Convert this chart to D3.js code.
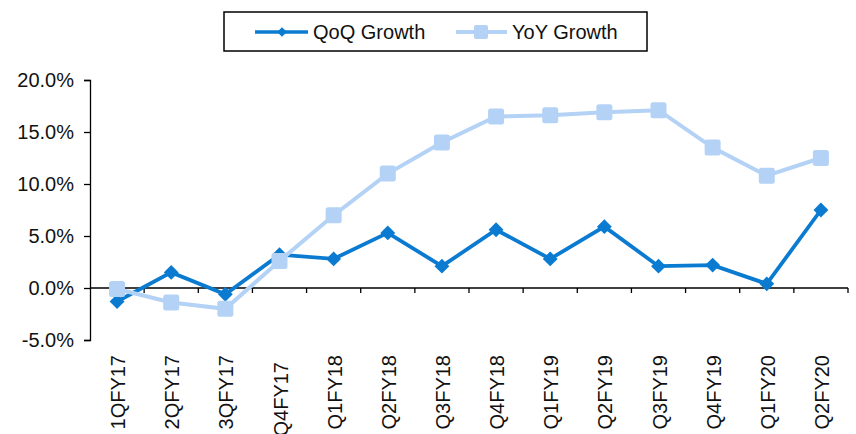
<!DOCTYPE html>
<html>
<head>
<meta charset="utf-8">
<title>QoQ / YoY Growth</title>
<script src="https://cdn.jsdelivr.net/npm/d3@7/dist/d3.min.js"></script>
<style>
body { margin: 0; background: #fff; font-family: "Liberation Sans", Arial, sans-serif; }
text { fill: #111; }
</style>
</head>
<body>
<script>
var width = 856, height = 434;

var quarters = ["1QFY17", "2QFY17", "3QFY17", "Q4FY17", "Q1FY18", "Q2FY18", "Q3FY18",
                "Q4FY18", "Q1FY19", "Q2FY19", "Q3FY19", "Q4FY19", "Q1FY20", "Q2FY20"];
var qoq = [-1.3, 1.5, -0.6, 3.2, 2.8, 5.3, 2.1, 5.6, 2.8, 5.9, 2.1, 2.2, 0.4, 7.5];
var yoy = [-0.1, -1.4, -2.0, 2.6, 7.0, 11.0, 14.0, 16.5, 16.6, 16.9, 17.1, 13.5, 10.8, 12.5];
var yTicks = [-5, 0, 5, 10, 15, 20];

var qoqColor = "#0a7bd0", yoyColor = "#b3d2f5";
var fs = 20;

var svg = d3.select("body").append("svg")
  .attr("width", width).attr("height", height);

var x = d3.scaleBand().domain(quarters).range([90, 848]);
var y = d3.scaleLinear().domain([-5, 20]).range([340, 80]);

// y axis
var yAxis = svg.append("g")
  .attr("transform", "translate(90,0)")
  .call(d3.axisLeft(y).tickValues(yTicks).tickSize(6).tickPadding(10)
    .tickFormat(function(d) { return d.toFixed(1) + "%"; }));
yAxis.selectAll("path, line").attr("stroke", "#000").attr("stroke-width", 1.3);
yAxis.select(".domain").attr("d", "M-6,80.5H0.5V340.5H-6");
yAxis.selectAll("text").attr("font-size", fs).attr("font-family", "Liberation Sans, Arial, sans-serif").attr("fill", "#111");

// x axis at zero
var xg = svg.append("g").attr("transform", "translate(0," + y(0) + ")");
xg.append("line").attr("x1", 90).attr("x2", 848).attr("stroke", "#000").attr("stroke-width", 1.5);
xg.selectAll(".tk").data(quarters).enter().append("line")
  .attr("x1", function(d) { return x(d) + x.bandwidth(); })
  .attr("x2", function(d) { return x(d) + x.bandwidth(); })
  .attr("y1", 0).attr("y2", 5).attr("stroke", "#000").attr("stroke-width", 1.3);

svg.append("g").selectAll("text").data(quarters).enter().append("text")
  .attr("transform", function(d) {
    return "translate(" + (x(d) + x.bandwidth() / 2 + 8) + "," + (d === "Q4FY17" ? 362 : 355) + ") rotate(-90)";
  })
  .attr("text-anchor", "end")
  .attr("font-size", fs)
  .text(function(d) { return d; });

// lines
var cx = function(d, i) { return x(quarters[i]) + x.bandwidth() / 2; };
var line = d3.line().x(cx).y(function(d) { return y(d); });

svg.append("path").datum(qoq).attr("d", line)
  .attr("fill", "none").attr("stroke", qoqColor).attr("stroke-width", 3.8);
svg.append("g").selectAll("path").data(qoq).enter().append("path")
  .attr("d", d3.symbol(d3.symbolDiamond2, 140))
  .attr("transform", function(d, i) { return "translate(" + cx(d, i) + "," + y(d) + ")"; })
  .attr("fill", qoqColor);

svg.append("path").datum(yoy).attr("d", line)
  .attr("fill", "none").attr("stroke", yoyColor).attr("stroke-width", 4);
svg.append("g").selectAll("rect").data(yoy).enter().append("rect")
  .attr("x", function(d, i) { return cx(d, i) - 8; })
  .attr("y", function(d) { return y(d) - 8; })
  .attr("width", 16).attr("height", 16).attr("rx", 2.5)
  .attr("fill", yoyColor);

// legend
var lg = svg.append("g");
lg.append("rect").attr("x", 224).attr("y", 12).attr("width", 423).attr("height", 39)
  .attr("fill", "#fff").attr("stroke", "#000").attr("stroke-width", 1.5);
lg.append("line").attr("x1", 255).attr("x2", 308).attr("y1", 32).attr("y2", 32)
  .attr("stroke", qoqColor).attr("stroke-width", 3.5);
lg.append("path").attr("d", d3.symbol(d3.symbolDiamond2, 60))
  .attr("transform", "translate(282,32)").attr("fill", qoqColor);
lg.append("text").attr("x", 313).attr("y", 39).attr("font-size", fs).text("QoQ Growth");
lg.append("line").attr("x1", 456).attr("x2", 507).attr("y1", 32).attr("y2", 32)
  .attr("stroke", yoyColor).attr("stroke-width", 4);
lg.append("rect").attr("x", 474).attr("y", 25).attr("width", 14).attr("height", 14).attr("rx", 2)
  .attr("fill", yoyColor);
lg.append("text").attr("x", 512).attr("y", 39).attr("font-size", fs).text("YoY Growth");
</script>
</body>
</html>
